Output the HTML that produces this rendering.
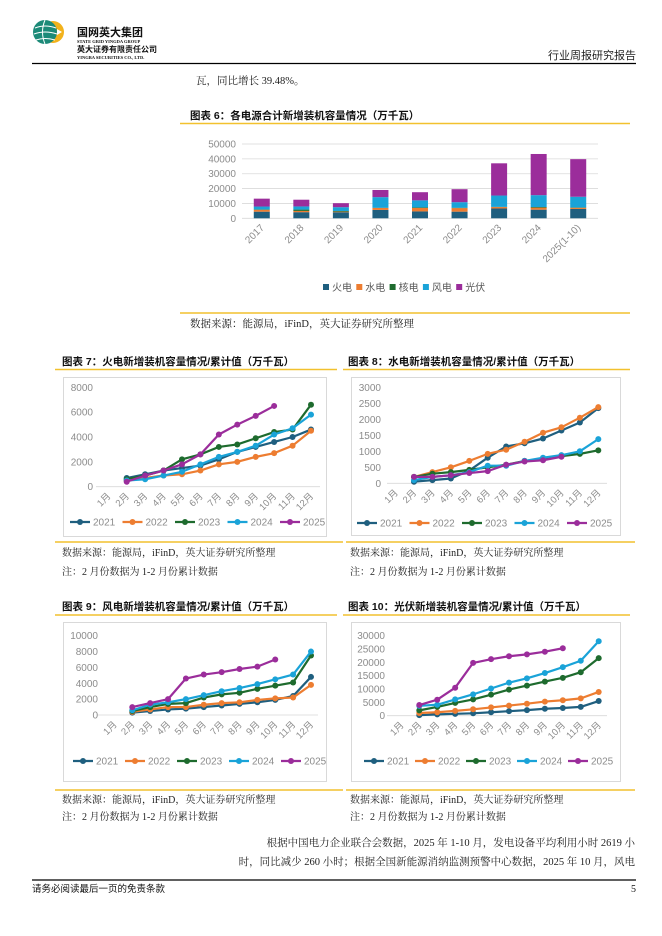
<!DOCTYPE html>
<html><head><meta charset="utf-8">
<style>
html,body{margin:0;padding:0;background:#fff;}
svg{display:block;}
.ser{font-family:"Liberation Serif","Noto Serif CJK SC",serif;}
.sans{font-family:"Liberation Sans","Noto Sans CJK SC",sans-serif;}
</style></head>
<body>
<svg id="page" width="662" height="936" viewBox="0 0 662 936" xmlns="http://www.w3.org/2000/svg">
<!-- header -->
<g>
  <circle cx="53" cy="32" r="11" fill="#f2b21c"/>
  <circle cx="45" cy="32" r="12" fill="#1c8a78"/>
  <path d="M35 28 Q45 24 56 28 M34 34 Q45 30 57 34 M36 40 Q45 37 55 40 M45 20 Q40 32 45 44" stroke="#fff" stroke-width="1" fill="none"/>
  <path d="M57 29 L62 32 L57 35 Z" fill="#fff"/>
</g>
<text x="77" y="36" class="sans" font-size="11" font-weight="bold" fill="#111">国网英大集团</text>
<text x="77" y="43" class="ser" font-size="4.5" font-weight="bold" fill="#111">STATE GRID YINGDA GROUP</text>
<text x="77" y="52" class="sans" font-size="8" font-weight="bold" fill="#111">英大证券有限责任公司</text>
<text x="77" y="59" class="ser" font-size="4.5" font-weight="bold" fill="#111">YINGBA SECURITIES CO., LTD.</text>
<text x="636" y="59" text-anchor="end" class="sans" font-size="11" fill="#222">行业周报研究报告</text>
<line x1="32" y1="63.5" x2="636" y2="63.5" stroke="#000" stroke-width="1.2"/>
<text x="196" y="84" class="ser" font-size="10.5" fill="#222">瓦，同比增长 39.48%。</text>

<!-- chart 6 -->
<text x="190" y="119" class="sans" font-size="10.5" font-weight="bold" fill="#111">图表 6：各电源合计新增装机容量情况（万千瓦）</text>
<line x1="180" y1="123.5" x2="630" y2="123.5" stroke="#f2c12e" stroke-width="1.5"/>
<g id="c6"></g>
<line x1="180" y1="313" x2="630" y2="313" stroke="#f2c12e" stroke-width="1.5"/>
<text x="190" y="327" class="ser" font-size="10.5" fill="#222">数据来源：能源局，iFinD，英大证券研究所整理</text>

<!-- chart 7/8 titles -->
<text x="62" y="365" class="sans" font-size="10.5" font-weight="bold" fill="#111">图表 7：火电新增装机容量情况/累计值（万千瓦）</text>
<text x="348" y="365" class="sans" font-size="10.5" font-weight="bold" fill="#111">图表 8：水电新增装机容量情况/累计值（万千瓦）</text>
<line x1="55" y1="369.5" x2="337" y2="369.5" stroke="#f2c12e" stroke-width="1.5"/>
<line x1="343" y1="369.5" x2="630" y2="369.5" stroke="#f2c12e" stroke-width="1.5"/>
<rect x="63.5" y="377.5" width="263" height="159" fill="none" stroke="#d9d9d9"/>
<rect x="351.5" y="377.5" width="269" height="158" fill="none" stroke="#d9d9d9"/>
<g id="c7"></g>
<g id="c8"></g>
<line x1="55" y1="542" x2="343" y2="542" stroke="#f2c12e" stroke-width="1.5"/>
<line x1="346" y1="542" x2="635" y2="542" stroke="#f2c12e" stroke-width="1.5"/>
<text x="62" y="556" class="ser" font-size="10" fill="#222">数据来源：能源局，iFinD，英大证券研究所整理</text>
<text x="62" y="575" class="ser" font-size="10" fill="#222">注：2 月份数据为 1-2 月份累计数据</text>
<text x="350" y="556" class="ser" font-size="10" fill="#222">数据来源：能源局，iFinD，英大证券研究所整理</text>
<text x="350" y="575" class="ser" font-size="10" fill="#222">注：2 月份数据为 1-2 月份累计数据</text>

<!-- chart 9/10 -->
<text x="62" y="610" class="sans" font-size="10.5" font-weight="bold" fill="#111">图表 9：风电新增装机容量情况/累计值（万千瓦）</text>
<text x="348" y="610" class="sans" font-size="10.5" font-weight="bold" fill="#111">图表 10：光伏新增装机容量情况/累计值（万千瓦）</text>
<line x1="55" y1="615" x2="337" y2="615" stroke="#f2c12e" stroke-width="1.5"/>
<line x1="343" y1="615" x2="630" y2="615" stroke="#f2c12e" stroke-width="1.5"/>
<rect x="63.5" y="622.5" width="263" height="159" fill="none" stroke="#d9d9d9"/>
<rect x="351.5" y="622.5" width="269" height="159" fill="none" stroke="#d9d9d9"/>
<g id="c9"></g>
<g id="c10"></g>
<line x1="55" y1="790" x2="343" y2="790" stroke="#f2c12e" stroke-width="1.5"/>
<line x1="346" y1="790" x2="635" y2="790" stroke="#f2c12e" stroke-width="1.5"/>
<text x="62" y="803" class="ser" font-size="10" fill="#222">数据来源：能源局，iFinD，英大证券研究所整理</text>
<text x="62" y="820" class="ser" font-size="10" fill="#222">注：2 月份数据为 1-2 月份累计数据</text>
<text x="350" y="803" class="ser" font-size="10" fill="#222">数据来源：能源局，iFinD，英大证券研究所整理</text>
<text x="350" y="820" class="ser" font-size="10" fill="#222">注：2 月份数据为 1-2 月份累计数据</text>

<text x="635" y="846" text-anchor="end" class="ser" font-size="10.5" fill="#222">根据中国电力企业联合会数据，2025 年 1-10 月，发电设备平均利用小时 2619 小</text>
<text x="635" y="865" text-anchor="end" class="ser" font-size="10.5" fill="#222">时，同比减少 260 小时；根据全国新能源消纳监测预警中心数据，2025 年 10 月，风电</text>
<line x1="32" y1="880" x2="636" y2="880" stroke="#000" stroke-width="1.2"/>
<text x="32" y="892" class="sans" font-size="9.5" fill="#111">请务必阅读最后一页的免责条款</text>
<text x="631" y="892" class="ser" font-size="10" fill="#111">5</text>
</svg>
<script>
// ---- chart 6 data ----
const years6 = ["2017","2018","2019","2020","2021","2022","2023","2024","2025(1-10)"];
const thermal6 = [4453,4119,4092,5637,4628,4471,6610,5800,6300];
const hydro6 = [1287,854,417,1323,2349,2387,943,1400,800];
const nuclear6 = [218,884,409,112,340,228,139,400,200];
const wind6 = [1952,2127,2574,7167,4757,3763,7622,7982,7200];
const solar6 = [5306,4525,2681,4820,5488,8741,21688,27700,25300];
const seriesNames6 = ["火电","水电","核电","风电","光伏"];
const ticks6 = [0,10000,20000,30000,40000,50000];

// ---- line chart data ----
const months = ["1月","2月","3月","4月","5月","6月","7月","8月","9月","10月","11月","12月"];
const yearNames = ["2021","2022","2023","2024","2025"];
const thermal2021 = [null,700,1000,1300,1500,1700,2200,2800,3200,3600,4000,4600];
const thermal2022 = [null,500,700,900,1000,1300,1800,2000,2400,2700,3300,4500];
const thermal2023 = [null,600,900,1300,2200,2600,3200,3400,3900,4400,4600,6600];
const thermal2024 = [null,500,600,900,1200,1800,2400,2800,3300,4200,4700,5800];
const thermal2025 = [null,400,900,1300,1800,2600,4200,5000,5700,6500];
const ticks7 = [0,2000,4000,6000,8000];
const hydro2021 = [null,50,100,150,400,800,1150,1250,1400,1650,1900,2350];
const hydro2022 = [null,200,350,500,700,920,1050,1300,1580,1750,2050,2380];
const hydro2023 = [null,200,300,350,420,500,580,700,750,850,920,1030];
const hydro2024 = [null,100,200,250,350,550,550,700,800,880,1000,1380];
const hydro2025 = [null,200,200,250,320,380,580,680,720,830];
const ticks8 = [0,500,1000,1500,2000,2500,3000];
const wind2021 = [null,300,500,700,800,1000,1200,1400,1600,1900,2400,4800];
const wind2022 = [null,400,700,1000,1000,1300,1500,1600,1900,2100,2200,3800];
const wind2023 = [null,500,1000,1400,1500,2200,2600,2800,3300,3700,4100,7500];
const wind2024 = [null,600,1300,1600,2000,2500,3000,3400,3900,4500,5100,8000];
const wind2025 = [null,1000,1500,2000,4600,5100,5400,5800,6100,7000];
const ticks9 = [0,2000,4000,6000,8000,10000];
const solar2021 = [null,200,500,700,900,1300,1700,2100,2600,2900,3300,5500];
const solar2022 = [null,1000,1300,1800,2400,3100,3800,4500,5300,5800,6500,8900];
const solar2023 = [null,2000,3300,4800,6100,7900,9800,11300,12800,14200,16300,21600];
const solar2024 = [null,3700,4100,6100,8000,10200,12400,14000,16000,18200,20600,27900];
const solar2025 = [null,4000,6000,10500,19800,21200,22300,23000,24000,25300];
const ticks10 = [0,5000,10000,15000,20000,25000,30000];

const COLORS = ["#1f5f7f","#ed7d31","#1e6b2e","#1aa3d8","#9b2d9b"];
const NS = "http://www.w3.org/2000/svg";
function mk(tag, attrs, parent){
  const e = document.createElementNS(NS, tag);
  for (const k in attrs) e.setAttribute(k, attrs[k]);
  parent.appendChild(e); return e;
}
const FONT = '"Liberation Sans","Noto Sans CJK SC",sans-serif';

// ---- draw chart 6 ----
(function(){
  const g = document.getElementById('c6');
  const x0 = 242, x1 = 598, yBase = 218.3, yTop = 144, maxV = 50000;
  const y = v => yBase - (v / maxV) * (yBase - yTop);
  const step = (x1 - x0) / years6.length;
  const cx = i => x0 + step * (i + 0.5);
  ticks6.forEach(t => {
    const l = mk('line', {x1:x0, x2:x1, y1:y(t), y2:y(t), stroke:'#d9d9d9', 'stroke-width':0.8}, g);
    
    
    const tx = mk('text', {x:236, y:y(t)+3.5, 'text-anchor':'end', 'font-size':10, fill:'#8c8c8c', 'font-family':FONT}, g);
    tx.textContent = t;
    
    
  });
  const series = [thermal6, hydro6, nuclear6, wind6, solar6];
  years6.forEach((yr, i) => {
    let acc = 0;
    series.forEach((s, k) => {
      const v = s[i];
      const r = mk('rect', {x:cx(i)-8, y:y(acc+v), width:16, height:y(acc)-y(acc+v), fill:COLORS[k]}, g);
      
      
      acc += v;
    });
    const tx = mk('text', {x:0, y:0, 'text-anchor':'end', 'font-size':10, fill:'#8c8c8c', 'font-family':FONT,
      transform:'translate(' + (cx(i)+3) + ',' + (yBase+10) + ') rotate(-45)'}, g);
    tx.textContent = yr;
    
    
  });
  seriesNames6.forEach((n, k) => {
    const lx = 323 + k * 33.3;
    const r = mk('rect', {x:lx, y:284, width:6, height:6, fill:COLORS[k]}, g);
    
    
    const tx = mk('text', {x:lx+9, y:291, 'font-size':10, fill:'#595959', 'font-family':FONT}, g);
    tx.textContent = n;
    
    
  });
})();

// ---- line chart drawer ----
function lineChart(id, cfg, seriesList, ticks){
  const g = document.getElementById(id);
  const maxV = ticks[ticks.length-1];
  const y = v => cfg.yBase - (v / maxV) * (cfg.yBase - cfg.yTop);
  const x = i => cfg.x2 + (i - 1) * cfg.step;
  const ax = mk('line', {x1:cfg.ax0, x2:cfg.ax1, y1:cfg.yBase, y2:cfg.yBase, stroke:'#d9d9d9', 'stroke-width':0.8}, g);
  
  
  ticks.forEach(t => {
    const tx = mk('text', {x:cfg.labX, y:y(t)+3.5, 'text-anchor':'end', 'font-size':10, fill:'#8c8c8c', 'font-family':FONT}, g);
    tx.textContent = t;
    
    
  });
  months.forEach((m, i) => {
    const tx = mk('text', {x:0, y:0, 'text-anchor':'end', 'font-size':9.5, fill:'#8c8c8c', 'font-family':FONT,
      transform:'translate(' + (x(i)+3) + ',' + (cfg.yBase+10) + ') rotate(-45)'}, g);
    tx.textContent = m;
    
    
  });
  seriesList.forEach((s, k) => {
    const pts = [];
    s.forEach((v, i) => { if (v !== null && v !== undefined) pts.push([x(i), y(v)]); });
    const pl = mk('polyline', {points: pts.map(p => p.join(',')).join(' '), fill:'none', stroke:COLORS[k], 'stroke-width':2.2, 'stroke-linejoin':'round'}, g);
    
    
    pts.forEach(p => {
      const c = mk('circle', {cx:p[0], cy:p[1], r:3, fill:COLORS[k]}, g);
      
      
    });
    const lx = cfg.legX + k * cfg.legStep;
    const ll = mk('line', {x1:lx, x2:lx+20, y1:cfg.legY, y2:cfg.legY, stroke:COLORS[k], 'stroke-width':2.2}, g);
    
    
    const lc = mk('circle', {cx:lx+10, cy:cfg.legY, r:3, fill:COLORS[k]}, g);
    
    
    const lt = mk('text', {x:lx+23, y:cfg.legY+3.5, 'font-size':10, fill:'#8c8c8c', 'font-family':FONT}, g);
    lt.textContent = yearNames[k];
    
    
  });
}
lineChart('c7', {yBase:486.7, yTop:387.3, x2:126.7, step:18.43, ax0:96, ax1:320, labX:93, legX:70, legY:522, legStep:52.5},
  [thermal2021, thermal2022, thermal2023, thermal2024, thermal2025], ticks7);
lineChart('c8', {yBase:483.3, yTop:387.3, x2:414, step:18.43, ax0:387, ax1:607, labX:381, legX:357, legY:523, legStep:52.5},
  [hydro2021, hydro2022, hydro2023, hydro2024, hydro2025], ticks8);
lineChart('c9', {yBase:715, yTop:635.7, x2:132.3, step:17.87, ax0:97, ax1:318, labX:98, legX:73, legY:761, legStep:52},
  [wind2021, wind2022, wind2023, wind2024, wind2025], ticks9);
lineChart('c10', {yBase:715.7, yTop:635.7, x2:419.3, step:17.94, ax0:387, ax1:607, labX:385, legX:364, legY:761, legStep:51},
  [solar2021, solar2022, solar2023, solar2024, solar2025], ticks10);
</script>
</body></html>
